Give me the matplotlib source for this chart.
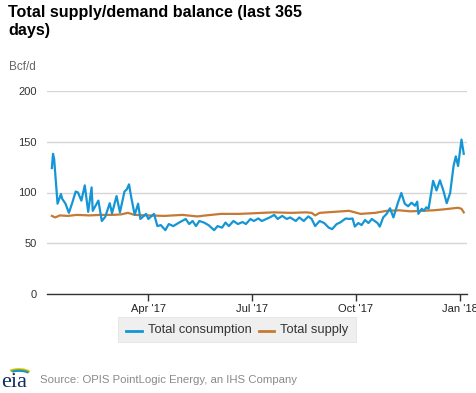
import matplotlib
matplotlib.use('Agg')
import matplotlib.pyplot as plt
import matplotlib.dates as mdates
import pandas as pd
from matplotlib.patches import Rectangle, Arc
from matplotlib.lines import Line2D

plt.rcParams['font.family'] = ['Liberation Sans', 'DejaVu Sans']

# ---------------- data ----------------
cons_dates = ["2017-01-06", "2017-01-07", "2017-01-08", "2017-01-11", "2017-01-14", "2017-01-15",
              "2017-01-18", "2017-01-21", "2017-01-24", "2017-01-27", "2017-01-29", "2017-02-01",
              "2017-02-04", "2017-02-07", "2017-02-10", "2017-02-11", "2017-02-16", "2017-02-19",
              "2017-02-22", "2017-02-26", "2017-02-28", "2017-03-04", "2017-03-07", "2017-03-11",
              "2017-03-13", "2017-03-15", "2017-03-17", "2017-03-20", "2017-03-23", "2017-03-25",
              "2017-03-30", "2017-04-01", "2017-04-06", "2017-04-09", "2017-04-12", "2017-04-16",
              "2017-04-19", "2017-04-23", "2017-04-29", "2017-05-04", "2017-05-07", "2017-05-10",
              "2017-05-13", "2017-05-16", "2017-05-20", "2017-05-24", "2017-05-29", "2017-06-01",
              "2017-06-05", "2017-06-08", "2017-06-11", "2017-06-15", "2017-06-19", "2017-06-23",
              "2017-06-26", "2017-06-30", "2017-07-03", "2017-07-07", "2017-07-10", "2017-07-15",
              "2017-07-17", "2017-07-21", "2017-07-24", "2017-07-28", "2017-08-01", "2017-08-04",
              "2017-08-09", "2017-08-12", "2017-08-16", "2017-08-20", "2017-08-23", "2017-08-26",
              "2017-08-30", "2017-09-03", "2017-09-07", "2017-09-10", "2017-09-14", "2017-09-17",
              "2017-09-22", "2017-09-25", "2017-09-28", "2017-09-30", "2017-10-03", "2017-10-06",
              "2017-10-09", "2017-10-12", "2017-10-15", "2017-10-20", "2017-10-22", "2017-10-25",
              "2017-10-28", "2017-10-31", "2017-11-03", "2017-11-07", "2017-11-10", "2017-11-13",
              "2017-11-16", "2017-11-19", "2017-11-22", "2017-11-24", "2017-11-25", "2017-11-28",
              "2017-11-30", "2017-12-02", "2017-12-04", "2017-12-08", "2017-12-11", "2017-12-14",
              "2017-12-17", "2017-12-20", "2017-12-23", "2017-12-26", "2017-12-28", "2017-12-30",
              "2018-01-02", "2018-01-04"]
cons_values = [124, 138, 133, 89, 98.5, 94,
               89, 80, 90, 101, 100, 92,
               107, 81, 105, 82, 92, 72,
               76, 89.5, 79.5, 96.5, 80.5, 101,
               103, 108, 95, 78, 89, 74,
               79, 74, 79, 67, 68, 63,
               69, 67, 71, 74, 69, 72,
               67, 72, 70.5, 68, 63, 67,
               65.5, 70.5, 67, 72, 69, 71,
               69, 74, 72, 74.5, 72, 74.5,
               75.5, 78, 74, 77, 74, 75.5,
               72, 75.5, 72, 76.5, 74, 67,
               72, 70, 65.5, 64, 69, 70.5,
               74.5, 74, 74.5, 66.5, 70, 68,
               73, 70, 74, 70, 66.5, 75.5,
               79, 84.5, 75.5, 90, 99.5, 89,
               86.5, 90, 87, 91, 79, 84,
               82, 85.5, 84, 111.5, 102, 112,
               102, 89.5, 99.5, 126, 135.5, 126,
               152, 138]

supply_dates = ["2017-01-06", "2017-01-09", "2017-01-13", "2017-01-20", "2017-01-28", "2017-02-08",
                "2017-02-18", "2017-03-01", "2017-03-08", "2017-03-14", "2017-03-20", "2017-04-01",
                "2017-04-15", "2017-05-01", "2017-05-14", "2017-05-22", "2017-06-04", "2017-06-20",
                "2017-07-01", "2017-07-20", "2017-08-05", "2017-08-18", "2017-08-23", "2017-08-26",
                "2017-08-30", "2017-09-12", "2017-09-25", "2017-10-05", "2017-10-18", "2017-10-28",
                "2017-11-08", "2017-11-18", "2017-11-28", "2017-12-08", "2017-12-18", "2017-12-26",
                "2017-12-30", "2018-01-02", "2018-01-04"]
supply_values = [77, 75.5, 77.5, 77, 78, 77.5,
                 78, 78, 78.5, 80, 78, 77.5,
                 77, 78, 76.5, 77.5, 79, 79,
                 79.5, 80.5, 80, 80.5, 80, 77.5,
                 80, 81, 82, 79, 80, 82,
                 82.5, 81.5, 82, 82.5, 83.5, 84.5,
                 85, 84, 80.5]

y_ticks = [0, 50, 100, 150, 200]
x_tick_dates = ["2017-04-01", "2017-07-01", "2017-10-01", "2018-01-01"]
x_tick_labels = ["Apr '17", "Jul '17", "Oct '17", "Jan '18"]
series_names = ["Total consumption", "Total supply"]

# ---------------- figure ----------------
W, H = 477, 393
fig = plt.figure(figsize=(W / 100, H / 100), dpi=100)

def fx(px):
    return px / W

def fy(py):
    return 1 - py / H

ax = fig.add_axes([fx(46.7), fy(294.3), fx(466.7) - fx(46.7), fy(90.7) - fy(294.3)])

BLUE = '#1496d6'
BROWN = '#c57a33'

cd = pd.to_datetime(cons_dates)
sd = pd.to_datetime(supply_dates)
ax.plot(cd, cons_values, color=BLUE, lw=1.6, solid_joinstyle='round', zorder=3)
ax.plot(sd, supply_values, color=BROWN, lw=1.6, solid_joinstyle='round', zorder=2)

start = pd.Timestamp("2017-01-01")
ax.set_xlim(mdates.date2num(start) + 0.44, mdates.date2num(start) + 370.6)
ax.set_ylim(0, 200)

ax.set_yticks(y_ticks)
ax.set_yticklabels([str(v) for v in y_ticks])
ax.tick_params(axis='y', length=0, pad=7, labelsize=8, labelcolor='#333333')
ax.grid(axis='y', color='#d6d6d6', lw=1)
ax.set_axisbelow(True)

ax.set_xticks(pd.to_datetime(x_tick_dates))
ax.set_xticklabels(x_tick_labels)
ax.tick_params(axis='x', length=5, width=1, color='#333333', pad=2, labelsize=8,
               labelcolor='#222222')

for s in ['top', 'right', 'left']:
    ax.spines[s].set_visible(False)
ax.spines['bottom'].set_color('#333333')
ax.spines['bottom'].set_linewidth(1)

# title
fig.text(fx(8), fy(5), "Total supply/demand balance (last 365\ndays)", fontsize=11.6,
         fontweight='bold', color='#000000', va='top', ha='left', linespacing=1.25)
fig.text(fx(9), fy(67), "Bcf/d", fontsize=8.5, color='#666666', va='center', ha='left')

# legend (manual box)
fig.patches.append(Rectangle((fx(118.3), fy(341.7)), fx(355.7) - fx(118.3), fy(317.3) - fy(341.7),
                             transform=fig.transFigure, facecolor='#efefef', edgecolor='#e4e4e4',
                             lw=0.6, zorder=1))
fig.lines.append(Line2D([fx(126), fx(141.7)], [fy(331), fy(331)], transform=fig.transFigure,
                        color=BLUE, lw=2, zorder=2))
fig.text(fx(147.7), fy(330.5), series_names[0], fontsize=9.3, color='#333333', va='center',
         ha='left', zorder=3)
fig.lines.append(Line2D([fx(258.7), fx(274.3)], [fy(331), fy(331)], transform=fig.transFigure,
                        color=BROWN, lw=2, zorder=2))
fig.text(fx(280), fy(330.5), series_names[1], fontsize=9.3, color='#333333', va='center',
         ha='left', zorder=3)

# source + logo
fig.text(fx(40), fy(380), "Source: OPIS PointLogic Energy, an IHS Company", fontsize=8.2,
         color='#8a8a8a', va='center', ha='left')
fig.text(fx(1.5), fy(387), "eia", fontsize=16, family=['Liberation Serif', 'DejaVu Serif'],
         color='#0f2d5c', va='baseline', ha='left')
for (w, h, col, t1, t2) in [(26, 12, '#f2c500', 20, 150), (24, 10, '#6cb33f', 20, 150),
                            (22, 8, '#1a8fd0', 15, 150)]:
    fig.patches.append(Arc((fx(19), fy(375)), fx(w), 1 - fy(h), theta1=t1, theta2=t2,
                           transform=fig.transFigure, color=col, lw=1.3))

fig.savefig('out.png', dpi=100)
